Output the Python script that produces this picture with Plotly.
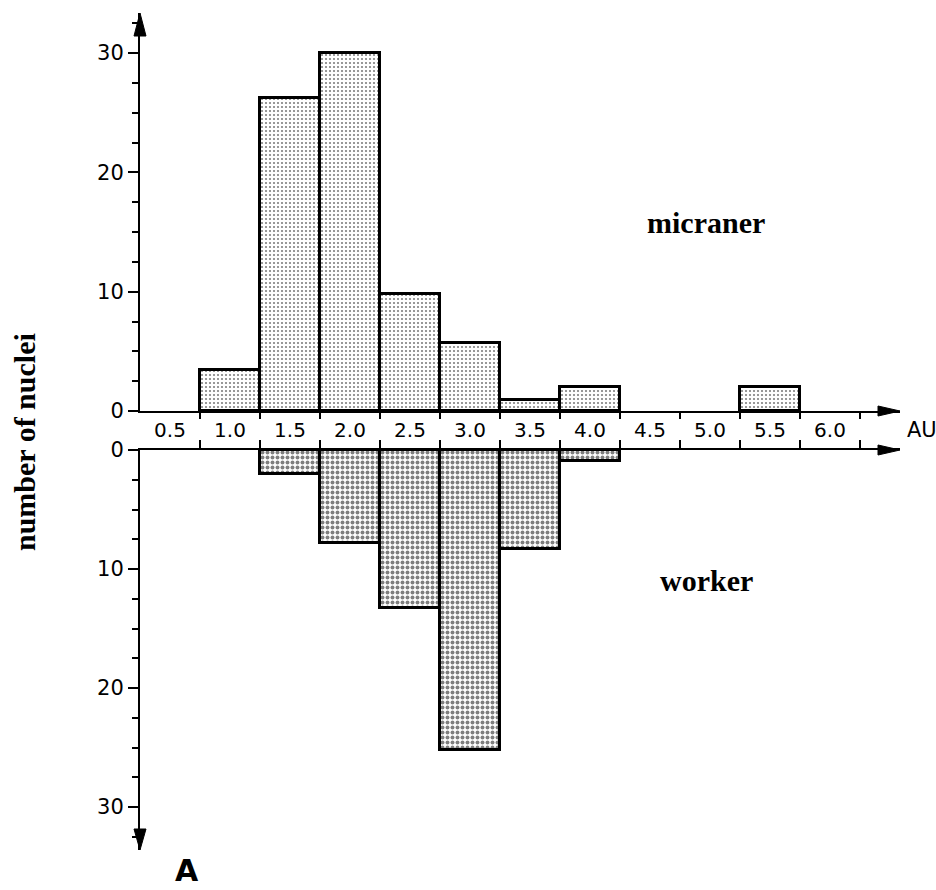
import plotly.graph_objects as go

# ---------------- data ----------------
bin_labels = ["0.5", "1.0", "1.5", "2.0", "2.5", "3.0", "3.5", "4.0", "4.5", "5.0", "5.5", "6.0"]
bin_centers = [0.5, 1.0, 1.5, 2.0, 2.5, 3.0, 3.5, 4.0, 4.5, 5.0, 5.5, 6.0]
bin_edges = [0.75, 1.25, 1.75, 2.25, 2.75, 3.25, 3.75, 4.25, 4.75, 5.25, 5.75, 6.25]

micraner_x = [1.0, 1.5, 2.0, 2.5, 3.0, 3.5, 4.0, 5.5]
micraner_n = [3.4, 26.2, 30.0, 9.8, 5.7, 0.9, 2.0, 2.0]

worker_x = [1.5, 2.0, 2.5, 3.0, 3.5, 4.0]
worker_n = [2.0, 7.8, 13.3, 25.2, 8.3, 0.9]

y_ticks = [0, 10, 20, 30]

# ---------------- layout geometry (pixels) ----------------
W, H = 936, 890
X0_PX, X1_PX = 140, 900          # x axis start / arrow tip
X_MIN = 0.25
PX_PER_X = 120.0
X_MAX = X_MIN + (X1_PX - X0_PX) / PX_PER_X

TOP_ZERO_PX, TOP_TIP_PX, TOP_PX_PER_N = 411, 13, 11.93
BOT_ZERO_PX, BOT_TIP_PX, BOT_PX_PER_N = 450, 850, 11.9
TOP_MAX = (TOP_ZERO_PX - TOP_TIP_PX) / TOP_PX_PER_N
BOT_MAX = (BOT_TIP_PX - BOT_ZERO_PX) / BOT_PX_PER_N


def fx(px):
    return px / W


def fy(py):
    return 1 - py / H


fig = go.Figure()

fig.add_trace(go.Bar(
    x=micraner_x, y=micraner_n, width=0.5, xaxis="x", yaxis="y",
    marker=dict(color="white", line=dict(color="black", width=3),
                pattern=dict(shape=".", fgcolor="black", bgcolor="white",
                             size=4, solidity=0.22, fillmode="overlay")),
    showlegend=False, hoverinfo="x+y"))

fig.add_trace(go.Bar(
    x=worker_x, y=worker_n, width=0.5, xaxis="x2", yaxis="y2",
    marker=dict(color="white", line=dict(color="black", width=3),
                pattern=dict(shape=".", fgcolor="black", bgcolor="white",
                             size=5, solidity=0.48, fillmode="overlay")),
    showlegend=False, hoverinfo="x+y"))

# invisible carrier trace so that the label axis (x3) is drawn
fig.add_trace(go.Scatter(
    x=bin_centers, y=[0] * len(bin_centers), xaxis="x3", yaxis="y",
    mode="markers", marker=dict(opacity=0), showlegend=False, hoverinfo="skip"))

tickfont = dict(family="DejaVu Sans", size=20, color="black")
axis_common = dict(showgrid=False, zeroline=False, showline=True,
                   linecolor="black", linewidth=2, automargin=False)

fig.update_layout(
    width=W, height=H,
    margin=dict(l=0, r=0, t=0, b=0),
    paper_bgcolor="white", plot_bgcolor="rgba(0,0,0,0)",
    bargap=0,
    xaxis=dict(domain=[fx(X0_PX), fx(X1_PX)], range=[X_MIN, X_MAX],
               anchor="y", side="bottom",
               tickmode="array", tickvals=bin_edges, showticklabels=False,
               ticks="outside", ticklen=6, tickwidth=2, tickcolor="black",
               **axis_common),
    xaxis2=dict(domain=[fx(X0_PX), fx(X1_PX)], range=[X_MIN, X_MAX],
                anchor="y2", side="top",
                tickmode="array", tickvals=bin_edges, showticklabels=False,
                ticks="outside", ticklen=8, tickwidth=2, tickcolor="black",
                **axis_common),
    xaxis3=dict(domain=[fx(X0_PX), fx(X1_PX)], range=[X_MIN, X_MAX],
                overlaying="x", anchor="free", position=fy(416), side="bottom",
                tickmode="array", tickvals=bin_centers, ticktext=bin_labels,
                ticks="", showline=False, showgrid=False, zeroline=False,
                showticklabels=True, tickfont=tickfont, automargin=False),
    yaxis=dict(domain=[fy(TOP_ZERO_PX), fy(TOP_TIP_PX)], range=[0, TOP_MAX],
               anchor="x", side="left",
               tickmode="array", tickvals=y_ticks,
               ticks="outside", ticklen=10, tickwidth=2, tickcolor="black",
               minor=dict(dtick=2.5, tick0=0, ticks="outside", ticklen=6,
                          tickwidth=2, tickcolor="black"),
               tickfont=dict(family="DejaVu Sans", size=21, color="black"),
               **axis_common),
    yaxis2=dict(domain=[fy(BOT_TIP_PX), fy(BOT_ZERO_PX)], range=[BOT_MAX, 0],
                anchor="x2", side="left",
                tickmode="array", tickvals=y_ticks,
                ticks="outside", ticklen=10, tickwidth=2, tickcolor="black",
                minor=dict(dtick=2.5, tick0=0, ticks="outside", ticklen=6,
                           tickwidth=2, tickcolor="black"),
                tickfont=dict(family="DejaVu Sans", size=21, color="black"),
                **axis_common),
)

# arrowheads (axis decorations, paper coordinates)
def tri(points):
    p = [(fx(a), fy(b)) for a, b in points]
    return "M {} {} L {} {} L {} {} Z".format(p[0][0], p[0][1], p[1][0], p[1][1], p[2][0], p[2][1])

shapes = [
    dict(type="path", xref="paper", yref="paper",
         path=tri([(X0_PX, TOP_TIP_PX), (X0_PX - 6, TOP_TIP_PX + 23), (X0_PX + 6, TOP_TIP_PX + 23)]),
         fillcolor="black", line=dict(color="black", width=1)),
    dict(type="path", xref="paper", yref="paper",
         path=tri([(X0_PX, BOT_TIP_PX), (X0_PX - 6, BOT_TIP_PX - 21), (X0_PX + 6, BOT_TIP_PX - 21)]),
         fillcolor="black", line=dict(color="black", width=1)),
    dict(type="path", xref="paper", yref="paper",
         path=tri([(X1_PX, TOP_ZERO_PX), (X1_PX - 22, TOP_ZERO_PX - 5), (X1_PX - 22, TOP_ZERO_PX + 5)]),
         fillcolor="black", line=dict(color="black", width=1)),
    dict(type="path", xref="paper", yref="paper",
         path=tri([(X1_PX, BOT_ZERO_PX), (X1_PX - 22, BOT_ZERO_PX - 5), (X1_PX - 22, BOT_ZERO_PX + 5)]),
         fillcolor="black", line=dict(color="black", width=1)),
]
fig.update_layout(shapes=shapes)

serif_bold = dict(family="Liberation Serif", size=30, color="black")
annotations = [
    dict(text="<b>micraner</b>", x=fx(706), y=fy(223), xref="paper", yref="paper",
         showarrow=False, font=serif_bold, xanchor="center", yanchor="middle"),
    dict(text="<b>worker</b>", x=fx(706), y=fy(580), xref="paper", yref="paper",
         showarrow=False, font=serif_bold, xanchor="center", yanchor="middle"),
    dict(text="<b>number of nuclei</b>", x=fx(24), y=fy(442), xref="paper", yref="paper",
         showarrow=False, font=serif_bold, textangle=-90, xanchor="center", yanchor="middle"),
    dict(text="AU", x=fx(922), y=fy(430), xref="paper", yref="paper",
         showarrow=False, font=dict(family="DejaVu Sans", size=21, color="black"),
         xanchor="center", yanchor="middle"),
    dict(text="<b>A</b>", x=fx(187), y=fy(870), xref="paper", yref="paper",
         showarrow=False, font=dict(family="DejaVu Sans", size=30, color="black"),
         xanchor="center", yanchor="middle"),
]
fig.update_layout(annotations=annotations)

fig.write_html("out.html",
               config={"displayModeBar": False},
               post_script="document.body.style.margin='0';document.body.style.padding='0';document.body.style.overflow='hidden';")
